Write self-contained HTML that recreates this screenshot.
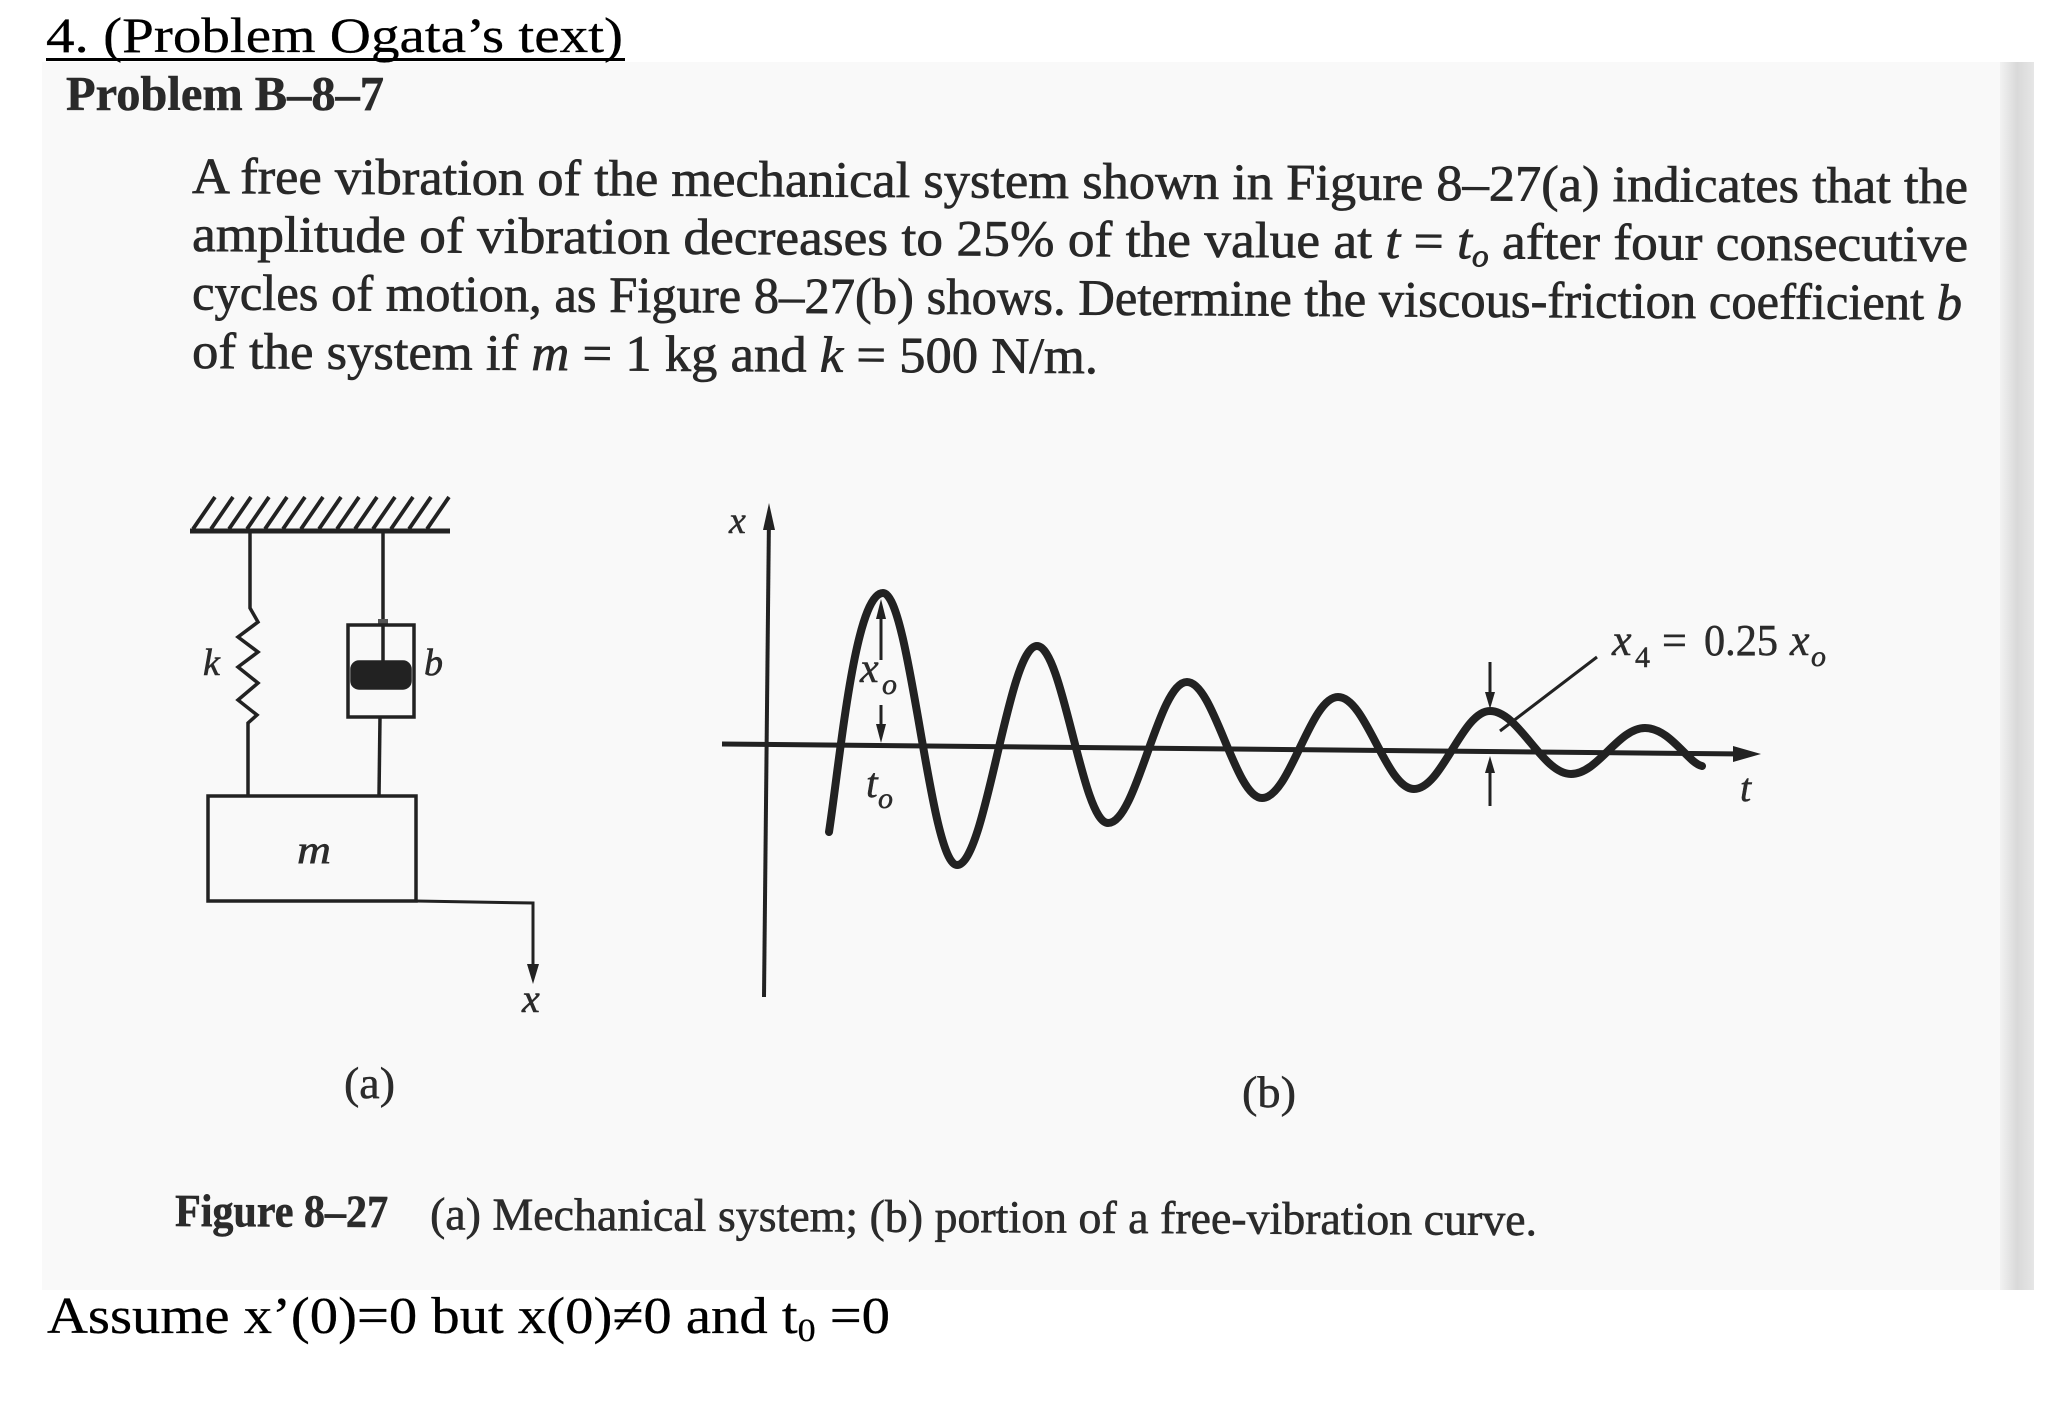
<!DOCTYPE html>
<html>
<head>
<meta charset="utf-8">
<style>
  html,body{margin:0;padding:0;background:#fff;}
  svg{display:block;}
  .serif{font-family:"Liberation Serif","DejaVu Serif",serif;}
</style>
</head>
<body>
<svg width="2046" height="1413" viewBox="0 0 2046 1413" xmlns="http://www.w3.org/2000/svg" class="serif">
  <defs>
    <linearGradient id="edge" x1="0" y1="0" x2="1" y2="0">
      <stop offset="0" stop-color="#f2f2f2"/>
      <stop offset="0.5" stop-color="#d9d9d9"/>
      <stop offset="1" stop-color="#e6e6e6"/>
    </linearGradient>
  </defs>
  <rect x="0" y="0" width="2046" height="1413" fill="#ffffff"/>
  <!-- scanned page area -->
  <rect x="42" y="62" width="1958" height="1228" fill="#f9f9f9"/>
  <rect x="2000" y="62" width="34" height="1228" fill="url(#edge)"/>

  <!-- Heading -->
  <text x="46" y="52" font-size="50" fill="#000" stroke="#000" stroke-width="0.3" textLength="577" lengthAdjust="spacingAndGlyphs">4. (Problem Ogata’s text)</text>
  <rect x="46" y="58" width="579" height="3" fill="#000"/>

  <text x="66" y="110" font-size="49" font-weight="bold" fill="#2a2a2a" stroke="#2a2a2a" stroke-width="0.5" textLength="318" lengthAdjust="spacingAndGlyphs">Problem B–8–7</text>

  <!-- Paragraph -->
  <g fill="#282828" stroke="#282828" stroke-width="0.7" font-size="51">
    <text x="192" y="193" transform="rotate(0.33 192 193)" textLength="1776" lengthAdjust="spacingAndGlyphs">A free vibration of the mechanical system shown in Figure 8–27(a) indicates that the</text>
    <text x="192" y="251" transform="rotate(0.33 192 251)" textLength="1776" lengthAdjust="spacingAndGlyphs">amplitude of vibration decreases to 25% of the value at <tspan font-style="italic">t</tspan> = <tspan font-style="italic">t</tspan><tspan font-style="italic" font-size="32" dy="8">o</tspan><tspan dy="-8"> after four consecutive</tspan></text>
    <text x="192" y="309.5" transform="rotate(0.33 192 309.5)" textLength="1770" lengthAdjust="spacingAndGlyphs">cycles of motion, as Figure 8–27(b) shows. Determine the viscous-friction coefficient <tspan font-style="italic">b</tspan></text>
    <text x="192" y="368" transform="rotate(0.33 192 368)" textLength="906" lengthAdjust="spacingAndGlyphs">of the system if <tspan font-style="italic">m</tspan> = 1 kg and <tspan font-style="italic">k</tspan> = 500 N/m.</text>
  </g>

  <!-- Figure (a): mechanical system -->
  <g stroke="#222" fill="none" stroke-width="3.5">
    <line x1="190" y1="531" x2="450" y2="531" stroke-width="5"/>
    <g stroke-width="3.8">
      <line x1="193" y1="529" x2="215" y2="497"/>
      <line x1="211" y1="529" x2="233" y2="497"/>
      <line x1="229" y1="529" x2="251" y2="497"/>
      <line x1="247" y1="529" x2="269" y2="497"/>
      <line x1="265" y1="529" x2="287" y2="497"/>
      <line x1="283" y1="529" x2="305" y2="497"/>
      <line x1="301" y1="529" x2="323" y2="497"/>
      <line x1="319" y1="529" x2="341" y2="497"/>
      <line x1="337" y1="529" x2="359" y2="497"/>
      <line x1="355" y1="529" x2="377" y2="497"/>
      <line x1="373" y1="529" x2="395" y2="497"/>
      <line x1="391" y1="529" x2="413" y2="497"/>
      <line x1="409" y1="529" x2="431" y2="497"/>
      <line x1="427" y1="529" x2="449" y2="497"/>
    </g>
    <!-- spring -->
    <polyline points="250,533 250,608 258,622 238,637 258,652 238,667 258,683 238,700 257,715 248,723 248,796"/>
    <!-- damper -->
    <line x1="383" y1="533" x2="383" y2="663"/>
    <rect x="378" y="619" width="10" height="6" fill="#555" stroke="none"/>
    <rect x="348" y="625" width="66" height="92"/>
    <rect x="352" y="662" width="58" height="26" rx="7" fill="#222"/>
    <line x1="380" y1="717" x2="379" y2="796"/>
    <!-- mass -->
    <rect x="208" y="796" width="208" height="105"/>
    <!-- displacement arrow -->
    <polyline points="416,901 533,903 533,970" stroke-width="3"/>
  </g>
  <polygon points="533,984 527,964 539,964" fill="#222"/>
  <g fill="#2b2b2b" stroke="#2b2b2b" stroke-width="0.6" font-style="italic">
    <text x="203" y="675" font-size="38">k</text>
    <text x="424" y="675" font-size="38">b</text>
    <text x="297" y="863" font-size="40" textLength="34" lengthAdjust="spacingAndGlyphs">m</text>
    <text x="522" y="1012" font-size="40">x</text>
  </g>
  <text x="344" y="1098" font-size="44" fill="#2b2b2b" stroke="#2b2b2b" stroke-width="0.5" textLength="51" lengthAdjust="spacingAndGlyphs">(a)</text>

  <!-- Figure (b): free vibration curve -->
  <g stroke="#222" fill="none">
    <line x1="769" y1="515" x2="764" y2="997" stroke-width="4"/>
    <line x1="722" y1="744" x2="1745" y2="754" stroke-width="5"/>
    <path stroke-width="8" stroke-linecap="round" stroke-linejoin="round"
      d="M829 832 C 840 760, 855 593, 883 593
         C 910 593, 930 865, 957 865
         C 986 865, 1008 646, 1037 646
         C 1063 646, 1082 823, 1108 823
         C 1137 823, 1158 682, 1187 682
         C 1214 682, 1235 798, 1262 798
         C 1290 798, 1310 697, 1338 697
         C 1366 697, 1386 789, 1414 789
         C 1442 789, 1462 711, 1490 711
         C 1519 711, 1542 774, 1571 774
         C 1598 774, 1618 728, 1645 728
         C 1670 728, 1688 763, 1702 766"/>
    <!-- x0 arrows -->
    <line x1="881" y1="615" x2="881" y2="660" stroke-width="3"/>
    <line x1="881" y1="705" x2="881" y2="728" stroke-width="3"/>
    <!-- x4 arrows -->
    <line x1="1490" y1="662" x2="1490" y2="696" stroke-width="3"/>
    <line x1="1490" y1="806" x2="1490" y2="770" stroke-width="3"/>
    <!-- leader -->
    <line x1="1500" y1="731" x2="1597" y2="657" stroke-width="3"/>
  </g>
  <g fill="#222">
    <polygon points="769,503 763,530 775,530"/>
    <polygon points="1761,754 1733,746 1733,762"/>
    <polygon points="881,599 876,619 886,619"/>
    <polygon points="881,743 876,724 886,724"/>
    <polygon points="1490,709 1485,692 1495,692"/>
    <polygon points="1490,756 1485,773 1495,773"/>
  </g>
  <g fill="#2b2b2b" stroke="#2b2b2b" stroke-width="0.5" font-style="italic">
    <text x="729" y="533" font-size="38">x</text>
    <text x="860" y="682" font-size="42">x</text>
    <text x="882" y="694" font-size="30">o</text>
    <text x="866" y="797" font-size="42">t</text>
    <text x="878" y="808" font-size="30">o</text>
    <text x="1740" y="801" font-size="40">t</text>
    <text x="1612" y="655" font-size="44">x</text>
    <text x="1790" y="655" font-size="44">x</text>
    <text x="1811" y="666" font-size="30">o</text>
  </g>
  <g fill="#2b2b2b" stroke="#2b2b2b" stroke-width="0.5">
    <text x="1635" y="667" font-size="30">4</text>
    <text x="1662" y="655" font-size="44">=</text>
    <text x="1704" y="655" font-size="44" textLength="74" lengthAdjust="spacingAndGlyphs">0.25</text>
  </g>
  <text x="1242" y="1107" font-size="44" fill="#2b2b2b" stroke="#2b2b2b" stroke-width="0.5" textLength="54" lengthAdjust="spacingAndGlyphs">(b)</text>

  <!-- Caption -->
  <g fill="#2b2b2b" stroke="#2b2b2b" stroke-width="0.6" font-size="46" transform="rotate(0.3 175 1226)">
    <text x="175" y="1226" font-weight="bold" textLength="213" lengthAdjust="spacingAndGlyphs">Figure 8–27</text>
    <text x="430" y="1228" textLength="1107" lengthAdjust="spacingAndGlyphs">(a) Mechanical system; (b) portion of a free-vibration curve.</text>
  </g>

  <!-- Assumption line -->
  <text x="47" y="1333" font-size="52" fill="#000" stroke="#000" stroke-width="0.3" textLength="843" lengthAdjust="spacingAndGlyphs">Assume x’(0)=0 but x(0)≠0 and t<tspan font-size="33" dy="8">0</tspan><tspan dy="-8"> =0</tspan></text>
</svg>
</body>
</html>
